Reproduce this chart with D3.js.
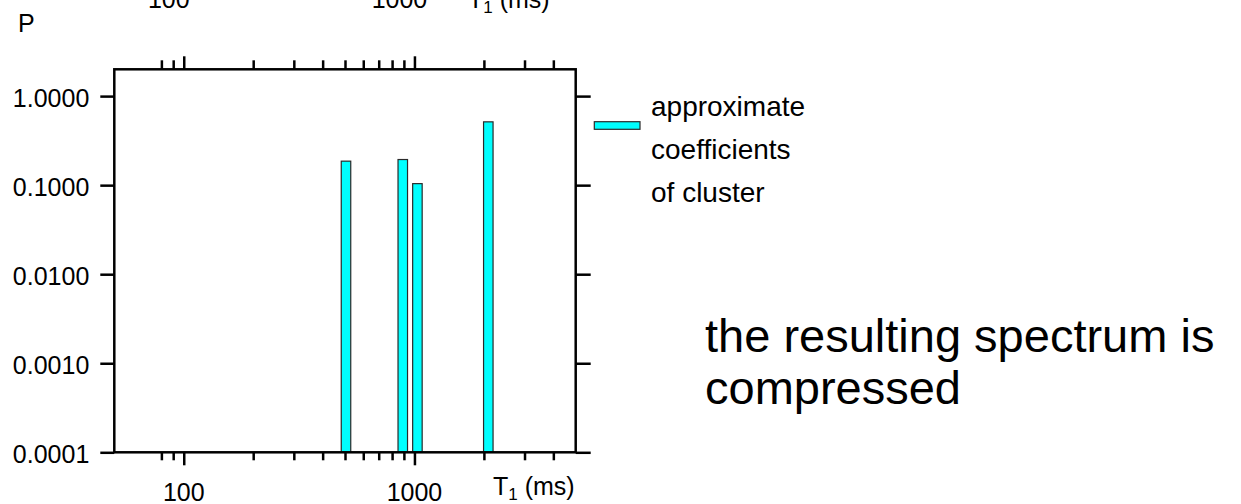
<!DOCTYPE html>
<html>
<head>
<meta charset="utf-8">
<script src="https://cdn.jsdelivr.net/npm/d3@7"></script>
<style>
  html, body { margin: 0; padding: 0; background: #fff; }
  svg { display: block; font-family: "Liberation Sans", Arial, sans-serif; }
</style>
</head>
<body>
<svg id="chart" width="1241" height="504"></svg>
<script>
// ---- data ----
const t1Values = [505, 890, 1030, 2090];          // T1 (ms), bar positions
const pValues = [0.186, 0.194, 0.104, 0.514];     // P, bar heights
const xMajorTicks = [100, 1000];
const xMinorTicks = [80, 90, 200, 300, 400, 500, 600, 700, 800, 900, 2000, 3000, 4000];
const yTicks = [1, 0.1, 0.01, 0.001, 0.0001];
const yTickLabels = ["1.0000", "0.1000", "0.0100", "0.0010", "0.0001"];
const legendLines = ["approximate", "coefficients", "of cluster"];
const noteLines = ["the resulting spectrum is", "compressed"];

// ---- layout ----
const L = 114.3, R = 575.7, T = 69.3, B = 452.3;
const svg = d3.select("#chart");
const x = d3.scaleLog().domain([50, 5000]).range([L, R]);
const y = d3.scaleLog().domain([0.0001, 2]).range([B, T]);
const SW = 2.5;
const barW = 9.5;

// bars
svg.append("g").selectAll("rect").data(t1Values).join("rect")
  .attr("x", d => x(d) - barW / 2)
  .attr("width", barW)
  .attr("y", (d, i) => y(pValues[i]))
  .attr("height", (d, i) => B - y(pValues[i]))
  .attr("fill", "#00FFFF")
  .attr("stroke", "#2a2a2a")
  .attr("stroke-width", 1.2);

function styleAxis(g) {
  g.select(".domain").remove();
  g.selectAll(".tick line").attr("stroke", "#000").attr("stroke-width", SW);
}

// bottom axis ticks
svg.append("g").attr("transform", `translate(0,${B})`)
  .call(d3.axisBottom(x).tickValues(xMinorTicks).tickSize(8).tickFormat(""))
  .call(styleAxis);
svg.append("g").attr("transform", `translate(0,${B})`)
  .call(d3.axisBottom(x).tickValues(xMajorTicks).tickSize(13).tickFormat(""))
  .call(styleAxis);
// top axis ticks
svg.append("g").attr("transform", `translate(0,${T})`)
  .call(d3.axisTop(x).tickValues(xMinorTicks).tickSize(9).tickFormat(""))
  .call(styleAxis);
svg.append("g").attr("transform", `translate(0,${T})`)
  .call(d3.axisTop(x).tickValues(xMajorTicks).tickSize(13).tickFormat(""))
  .call(styleAxis);

// left axis
const yl = svg.append("g").attr("transform", `translate(${L},0)`)
  .call(d3.axisLeft(y).tickValues(yTicks).tickSize(14).tickPadding(11)
    .tickFormat((d, i) => yTickLabels[i]))
  .call(styleAxis);
yl.selectAll(".tick text").attr("font-size", 25).attr("fill", "#000")
  .attr("font-family", "Liberation Sans, Arial, sans-serif").attr("dy", "0.4em");
// right axis ticks
svg.append("g").attr("transform", `translate(${R},0)`)
  .call(d3.axisRight(y).tickValues(yTicks).tickSize(15).tickFormat(""))
  .call(styleAxis);

// frame
svg.append("rect").attr("x", L).attr("y", T).attr("width", R - L).attr("height", B - T)
  .attr("fill", "none").attr("stroke", "#000").attr("stroke-width", SW);

// x labels bottom
svg.append("g").selectAll("text").data(xMajorTicks).join("text")
  .attr("x", d => x(d)).attr("y", 501).attr("text-anchor", "middle")
  .attr("font-size", 25).text(d => d3.format("d")(d));
// x labels top (cut off at the top edge)
svg.append("g").selectAll("text").data(xMajorTicks).join("text")
  .attr("x", d => x(d) - 15).attr("y", 8).attr("text-anchor", "middle")
  .attr("font-size", 25).text(d => d3.format("d")(d));

function axisTitle(xp, yp) {
  const t = svg.append("text").attr("x", xp).attr("y", yp).attr("font-size", 25);
  t.append("tspan").text("T");
  t.append("tspan").attr("font-size", 17).attr("dy", 5).text("1");
  t.append("tspan").attr("dy", -5).text(" (ms)");
}
axisTitle(493, 495);
axisTitle(468, 8);

// y title
svg.append("text").attr("x", 18).attr("y", 31.7).attr("font-size", 25).text("P");

// legend
svg.append("rect").attr("x", 594.3).attr("y", 121.7).attr("width", 45.7).attr("height", 7.6)
  .attr("fill", "#00FFFF").attr("stroke", "#2a2a2a").attr("stroke-width", 1.2);
svg.append("g").selectAll("text").data(legendLines).join("text")
  .attr("x", 651).attr("y", (d, i) => 116 + i * 43)
  .attr("font-size", 28).text(d => d);

// note
svg.append("g").selectAll("text").data(noteLines).join("text")
  .attr("x", 705).attr("y", (d, i) => 352 + i * 52)
  .attr("font-size", 47).text(d => d);
</script>
</body>
</html>
